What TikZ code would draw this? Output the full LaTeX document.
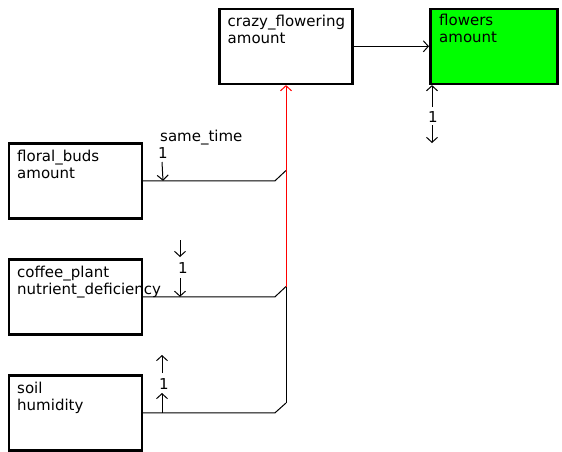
\documentclass[tikz,border=0pt]{standalone}
\usepackage{fontspec}
\setmainfont{DejaVu Sans}
\usetikzlibrary{calc, arrows.meta, positioning}

\definecolor{boxgreen}{RGB}{0,255,0}

\tikzset{
  box/.style={draw, line width=2.6pt, anchor=north west, minimum width=133pt, minimum height=75pt, inner sep=0pt},
  boxtext/.style={anchor=north west, align=left, inner sep=0pt, font=\fontsize{15}{17}\selectfont},
  num/.style={inner sep=0pt, font=\fontsize{15}{17}\selectfont},
  link/.style={line width=1pt},
}

\begin{document}
\begin{tikzpicture}[x=1pt, y=-1pt, >={Straight Barb[length=5pt, width=11pt]}]
    \useasboundingbox (0,0) rectangle (562,451);

    % --- cac hop ---
    \node[box] (crazy) at (218,7.5) {};
    \node[box, fill=boxgreen, minimum width=127pt] (flowers) at (429,7.5) {};
    \node[box] (floral) at (7.5,142) {};
    \node[box] (coffee) at (7.5,258) {};
    \node[box] (soil) at (7.5,374) {};

    % chu trong hop
    \node[boxtext] (crazy-txt) at ($(crazy.north west)+(9.5,7.5)$) {crazy\_flowering\\amount};
    \node[boxtext] (flowers-txt) at ($(flowers.north west)+(10,6)$) {flowers\\amount};
    \node[boxtext] (floral-txt) at ($(floral.north west)+(9.5,8)$) {floral\_buds\\amount};
    \node[boxtext] (coffee-txt) at ($(coffee.north west)+(9.5,8)$) {coffee\_plant\\nutrient\_deficiency};
    \node[boxtext] (soil-txt) at ($(soil.north west)+(9.5,8)$) {soil\\humidity};

    % diem noi tren duong doc
    \coordinate (jf) at (286,170.5);
    \coordinate (jc) at (286,286.5);
    \coordinate (js) at (286,403);

    % --- cac duong noi ---
    \draw[link, ->] (crazy) -- (flowers);
    \draw[link] (floral.east) -- ([xshift=-11pt]floral.east -| jf) -- (jf);
    \draw[link] (coffee.east) -- ([xshift=-11pt]coffee.east -| jc) -- (jc);
    \draw[link] (soil.east) -- ([xshift=-11pt]soil.east -| js) -- (js);
    \draw[link] (jc) -- (js);
    \draw[link, red, ->] (jc) -- (crazy.south -| jc);

    % --- nhan so 1 ---
    \node[boxtext] (same) at (160,130) {same\_time};
    \node[num] (fb1) at (163,153) {1};
    \draw[link, ->] (162,162) -- (floral.east -| fb1.south);

    \node[num] (cp1) at (183,268) {1};
    \draw[link, ->] (180,240) -- (180,257);
    \draw[link, ->] (180,278) -- (coffee.east -| 180,0);

    \node[num] (sh1) at (164,384) {1};
    \draw[link, ->] (162,373) -- (162,355);
    \draw[link, ->] (soil.east -| 162,0) -- (162,393);

    \node[num] (fl1) at (433,117) {1};
    \draw[link, ->] (432,107) -- (flowers.south -| 432,0);
    \draw[link, ->] (432,125) -- (432,143);
\end{tikzpicture}
\end{document}
